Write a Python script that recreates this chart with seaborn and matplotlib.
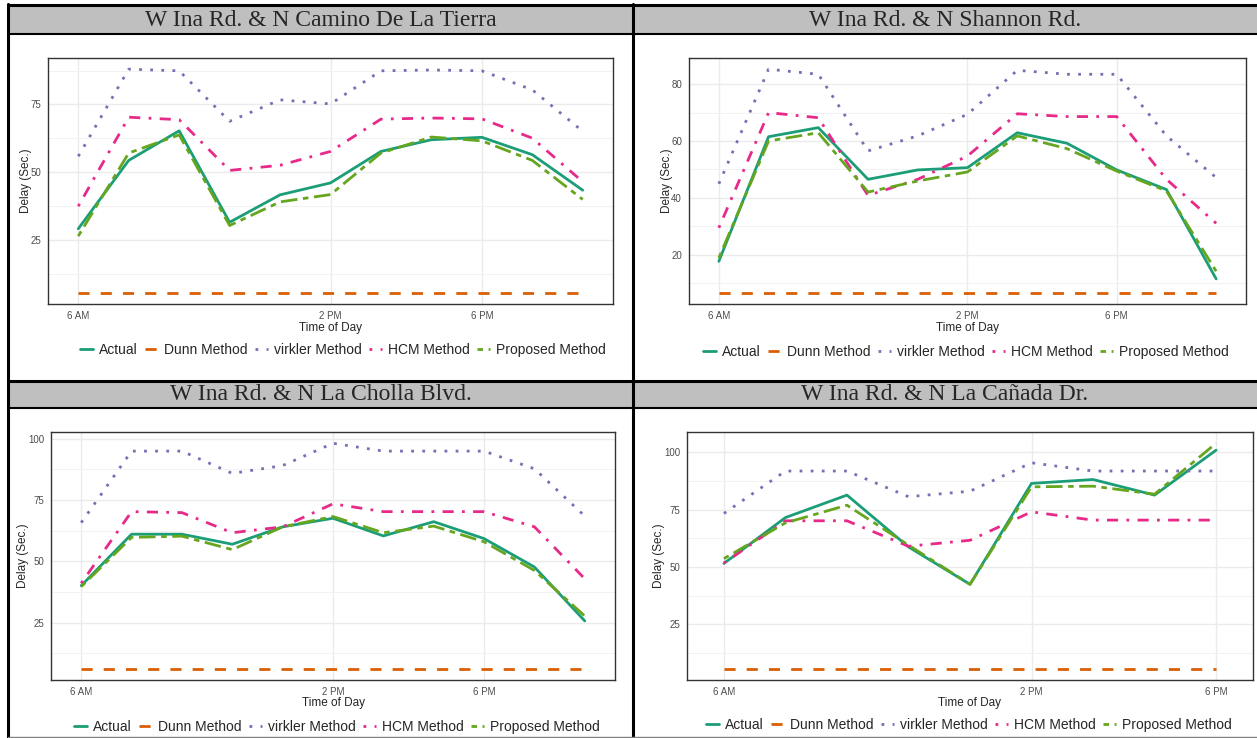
import numpy as np
import pandas as pd
import matplotlib
matplotlib.use("Agg")
import matplotlib.pyplot as plt
import seaborn as sns
from matplotlib.lines import Line2D
from matplotlib.patches import Rectangle
from matplotlib.ticker import MultipleLocator

# ---- data ----
methods = ["Actual", "Dunn Method", "virkler Method", "HCM Method", "Proposed Method"]
tick_labels = ["6 AM", "2 PM", "6 PM"]
tick_index = [0, 5, 8]

# W Ina Rd. & N Camino De La Tierra
camino_actual = [29.2, 54.4, 65.3, 31.6, 41.7, 46.1, 57.7, 62.0, 62.9, 56.5, 43.4]
camino_dunn = [5.6] * 11
camino_virkler = [55.9, 88.0, 87.4, 68.8, 76.7, 75.2, 87.4, 87.7, 87.4, 80.4, 65.1]
camino_hcm = [37.5, 70.3, 69.4, 50.7, 52.6, 57.7, 69.6, 70.0, 69.7, 62.6, 46.5]
camino_proposed = [26.5, 57.1, 63.8, 30.4, 39.1, 41.8, 57.1, 63.0, 61.6, 54.4, 40.0]

# W Ina Rd. & N Shannon Rd.
shannon_actual = [17.6, 61.5, 64.7, 46.5, 49.8, 50.6, 62.9, 59.2, 49.8, 42.9, 11.4]
shannon_dunn = [6.5] * 11
shannon_virkler = [44.9, 85.3, 83.5, 56.5, 61.8, 69.4, 84.9, 83.5, 83.5, 61.8, 47.1]
shannon_hcm = [29.4, 70.0, 68.2, 40.8, 46.5, 54.7, 69.6, 68.6, 68.6, 46.5, 31.0]
shannon_proposed = [18.8, 60.0, 62.9, 42.0, 45.9, 49.1, 61.8, 57.3, 49.4, 42.4, 14.1]

# W Ina Rd. & N La Cholla Blvd.
cholla_actual = [40.1, 61.1, 61.1, 57.0, 64.1, 67.6, 60.4, 66.2, 59.3, 47.7, 25.7]
cholla_dunn = [6.2] * 11
cholla_virkler = [65.8, 95.0, 95.0, 85.9, 89.1, 98.2, 95.0, 95.0, 95.0, 87.8, 68.5]
cholla_hcm = [41.1, 70.3, 69.9, 61.7, 64.1, 73.5, 70.3, 70.3, 70.3, 64.1, 42.9]
cholla_proposed = [39.7, 59.8, 60.3, 54.8, 64.1, 68.3, 61.7, 64.4, 58.0, 46.3, 27.7]

# W Ina Rd. & N La Cañada Dr.
canada_actual = [51.5, 71.5, 81.3, 58.7, 42.4, 86.4, 88.1, 81.3, 100.9]
canada_dunn = [5.6] * 9
canada_virkler = [73.3, 91.8, 91.8, 80.6, 83.0, 95.4, 91.8, 91.8, 91.8]
canada_hcm = [51.7, 70.1, 70.1, 59.0, 61.6, 74.0, 70.4, 70.4, 70.4]
canada_proposed = [53.6, 69.2, 76.9, 59.5, 42.4, 84.9, 85.2, 81.7, 103.9]

panels = [
    ("W Ina Rd. & N Camino De La Tierra",
     [camino_actual, camino_dunn, camino_virkler, camino_hcm, camino_proposed]),
    ("W Ina Rd. & N Shannon Rd.",
     [shannon_actual, shannon_dunn, shannon_virkler, shannon_hcm, shannon_proposed]),
    ("W Ina Rd. & N La Cholla Blvd.",
     [cholla_actual, cholla_dunn, cholla_virkler, cholla_hcm, cholla_proposed]),
    ("W Ina Rd. & N La Cañada Dr.",
     [canada_actual, canada_dunn, canada_virkler, canada_hcm, canada_proposed]),
]

# ---- style ----
palette = dict(zip(methods, ["#1B9E77", "#D95F02", "#7570B3", "#E7298A", "#66A61E"]))
dashes = dict(zip(methods, ["", (4, 4), (1, 3), (1, 3, 4, 3), (2, 2, 6, 2)]))
y_major = [25, 20, 25, 25]

W, H = 1257, 738
sns.set_theme(style="white")
plt.rcParams["font.family"] = ["Liberation Sans", "DejaVu Sans"]
fig = plt.figure(figsize=(W / 100, H / 100), dpi=100)

# table frame + grey header rows, drawn in pixel coordinates
frame = fig.add_axes([0, 0, 1, 1], zorder=-1)
frame.set_xlim(0, W)
frame.set_ylim(H, 0)
frame.axis("off")
for top, bot in [(5, 34), (381, 408)]:
    frame.add_patch(Rectangle((8, top), W - 8, bot - top, facecolor="#BFBFBF", edgecolor="none"))
    frame.plot([8, W], [top, top], color="black", lw=2.2)
    frame.plot([8, W], [bot, bot], color="black", lw=1.5)
frame.plot([8, 8], [4, 737], color="black", lw=2.2)
frame.plot([633, 633], [4, 737], color="black", lw=2.2)
frame.plot([8, W], [736.5, 736.5], color="#808080", lw=1)

title_pos = [(321, 20), (945, 20), (321, 395), (945, 395)]
axes_px = [(48, 58, 613, 304), (689, 58, 1246, 304), (51, 432, 615, 680), (687, 432, 1253, 680)]
legend_pos = [(343, 350), (966, 352), (337, 727), (969, 725)]
xlabel_y = [328, 328, 703, 703]

handles = [Line2D([0], [0], color=palette[m], lw=2,
                  linestyle=(0, dashes[m]) if dashes[m] else "-") for m in methods]

for i, (title, series) in enumerate(panels):
    n = len(series[0])
    df = pd.DataFrame({
        "Time": np.tile(np.arange(n), len(methods)),
        "Delay": np.concatenate(series),
        "Method": np.repeat(methods, n),
    })
    l, t, r, b = axes_px[i]
    ax = fig.add_axes([l / W, 1 - b / H, (r - l) / W, (b - t) / H])
    sns.lineplot(data=df, x="Time", y="Delay", hue="Method", style="Method",
                 palette=palette, dashes=dashes, hue_order=methods, style_order=methods,
                 lw=2, legend=False, ax=ax)
    ax.set_xlim(-0.6, n - 0.4)
    ax.margins(y=0.05)
    ax.set_xticks(tick_index)
    ax.set_xticklabels(tick_labels)
    ax.yaxis.set_major_locator(MultipleLocator(y_major[i]))
    ax.yaxis.set_minor_locator(MultipleLocator(y_major[i] / 2))
    ax.grid(True, which="major", color="#EBEBEB", lw=1)
    ax.grid(True, which="minor", axis="y", color="#F2F2F2", lw=0.7)
    ax.set_axisbelow(True)
    for s in ax.spines.values():
        s.set_color("#333333")
        s.set_linewidth(1)
    ax.tick_params(axis="both", which="major", length=3, width=0.8, color="#333333",
                   labelsize=7, labelcolor="#4D4D4D", pad=2)
    ax.tick_params(axis="both", which="minor", length=0)
    ax.set_xlabel("")
    ax.set_ylabel("Delay (Sec.)", fontsize=8.5, labelpad=-1)
    fig.text((l + r) / 2 / W, 1 - xlabel_y[i] / H, "Time of Day", ha="center", va="center", fontsize=8.5)

    fig.text(title_pos[i][0] / W, 1 - title_pos[i][1] / H, title, ha="center", va="center",
             fontsize=17, family=["Liberation Serif", "DejaVu Serif"])

    lx, ly = legend_pos[i]
    ax.legend(handles, methods, loc="center", bbox_to_anchor=(lx / W, 1 - ly / H),
              bbox_transform=fig.transFigure, ncol=5, frameon=False, fontsize=10,
              handlelength=0.9, handletextpad=0.45, columnspacing=0.55)

fig.savefig("out.png", dpi=100)
